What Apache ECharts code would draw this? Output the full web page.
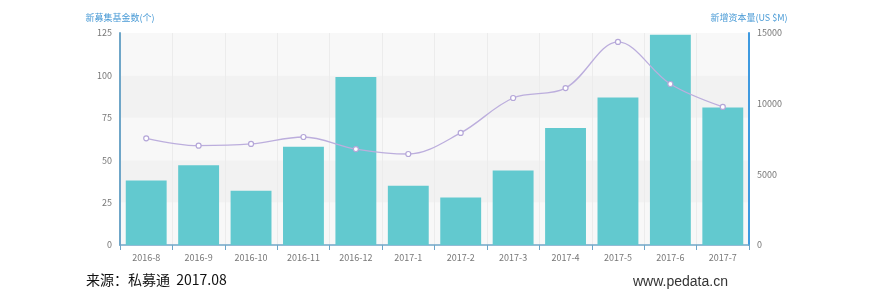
<!DOCTYPE html>
<html><head><meta charset="utf-8">
<script src="https://cdn.jsdelivr.net/npm/echarts@6/dist/echarts.min.js"></script>
<style>html,body{margin:0;padding:0;background:#fff}#c{width:870px;height:297px}</style>
</head><body><div id="c"></div>
<script>
var categories = ['2016-8','2016-9','2016-10','2016-11','2016-12','2017-1','2017-2','2017-3','2017-4','2017-5','2017-6','2017-7'];
var fundCounts = [38, 47, 32, 58, 99, 35, 28, 44, 69, 87, 124, 81];
var capitalUSDm = [7550, 7030, 7150, 7640, 6790, 6440, 7930, 10400, 11100, 14370, 11390, 9770];
var leftTicks = [0, 25, 50, 75, 100, 125];
var rightTicks = [0, 5000, 10000, 15000];
var leftName = '新募集基金数(个)';
var rightName = '新增资本量(US $M)';
var sourceText = '来源：私募通  2017.08';
var siteText = 'www.pedata.cn';

var chart = echarts.init(document.getElementById('c'));
var cjk = '"Noto Sans CJK SC", "Microsoft YaHei", sans-serif';
chart.setOption({
  animation: false,
  textStyle: {fontFamily: cjk},
  grid: {left: 120, right: 121, top: 33, bottom: 52},
  graphic: [
    {type: 'text', left: 86, top: 273, style: {text: sourceText, fill: '#111', font: '14px ' + cjk}},
    {type: 'text', left: 633, top: 275, style: {text: siteText, fill: '#333', font: '14px "Liberation Sans", Arial, sans-serif'}}
  ],
  xAxis: {
    type: 'category', data: categories,
    axisLine: {lineStyle: {color: '#6fa6c8', width: 1.5}},
    axisTick: {show: true, lineStyle: {color: '#6fa6c8'}},
    axisLabel: {color: '#777', fontSize: 9, margin: 8},
    splitLine: {show: true, lineStyle: {color: '#ececec'}}
  },
  yAxis: [{
    type: 'value', min: 0, max: 125, interval: 25,
    name: leftName, nameGap: 11,
    nameTextStyle: {color: '#4a9bd6', fontSize: 9},
    axisLine: {show: true, lineStyle: {color: '#6fa6c8', width: 2}},
    axisTick: {show: false},
    axisLabel: {color: '#777', fontSize: 9, margin: 8,
      formatter: function(v){ return leftTicks.indexOf(v) >= 0 ? String(v) : ''; }},
    splitLine: {show: false},
    splitArea: {show: true, areaStyle: {color: ['#f8f8f8', '#f2f2f2']}}
  }, {
    type: 'value', min: 0, max: 15000, interval: 5000,
    name: rightName, nameGap: 11,
    nameTextStyle: {color: '#4a9bd6', fontSize: 9},
    axisLine: {show: true, lineStyle: {color: '#3f9ae0', width: 2}},
    axisTick: {show: false},
    axisLabel: {color: '#777', fontSize: 9, margin: 8,
      formatter: function(v){ return rightTicks.indexOf(v) >= 0 ? String(v) : ''; }},
    splitLine: {show: false}
  }],
  series: [{
    type: 'bar', data: fundCounts, yAxisIndex: 0,
    barCategoryGap: '22%',
    itemStyle: {color: '#62c9cf'}
  }, {
    type: 'line', data: capitalUSDm, yAxisIndex: 1, smooth: 0.35,
    symbol: 'circle', symbolSize: 5,
    lineStyle: {color: '#bcaedd', width: 1.3},
    itemStyle: {color: '#ffffff', borderColor: '#b4a6d8', borderWidth: 1.2}
  }]
});
</script></body></html>
